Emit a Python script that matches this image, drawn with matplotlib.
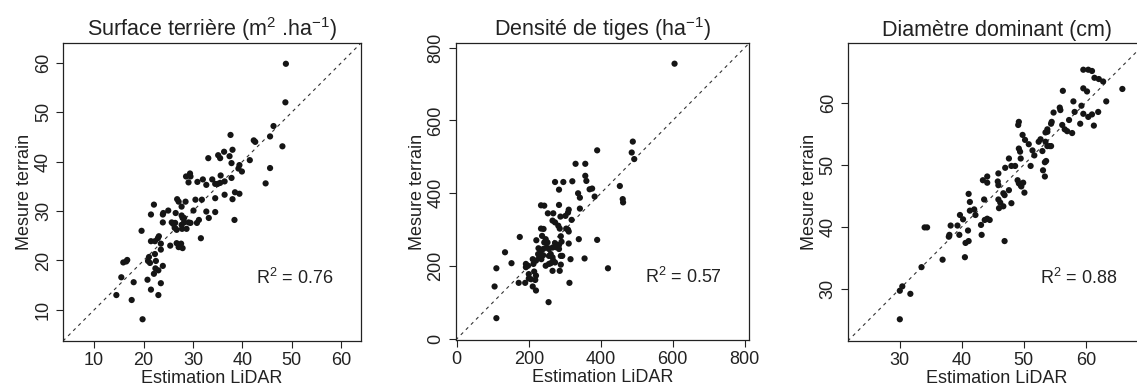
import matplotlib.pyplot as plt
import numpy as np

plt.rcParams['font.family'] = ['Liberation Sans', 'DejaVu Sans']
plt.rcParams['mathtext.fontset'] = 'custom'
plt.rcParams['mathtext.rm'] = 'Liberation Sans'
plt.rcParams['mathtext.it'] = 'Liberation Sans'

# surface terriere (m2/ha) : estimation LiDAR, mesure terrain
st_x = [48.8, 48.7, 46.3, 45.6, 48.1, 37.6, 42.3, 42.6, 38.0, 37.4, 36.3, 35.1, 35.5, 33.1,
        37.8, 41.5, 39.4, 39.2, 39.9, 45.6, 44.7, 32.0, 28.6, 29.4, 29.5, 29.1, 30.9, 32.7,
        33.9, 34.5, 35.0, 35.5, 35.6, 36.4, 37.8, 34.5, 36.4, 38.0, 38.5, 39.4, 38.4, 32.7,
        34.5, 33.2, 30.5, 31.8, 26.8, 27.1, 27.7, 28.5, 25.0, 24.0, 23.9, 22.1, 21.5, 26.5,
        27.7, 27.9, 28.2, 30.1, 31.2, 30.8, 23.9, 25.7, 26.0, 26.4, 26.3, 26.7, 27.7, 28.2,
        29.1, 29.5, 27.8, 28.7, 25.4, 26.7, 27.1, 27.9, 27.6, 31.6, 19.6, 21.5, 22.3, 22.9,
        23.1, 23.5, 23.5, 22.3, 21.1, 20.9, 21.3, 22.5, 23.9, 22.4, 23.0, 22.1, 23.5, 15.9,
        16.5, 16.7, 15.5, 14.5, 18.0, 17.6, 20.8, 21.5, 23.0, 19.8]
st_y = [59.8, 52.0, 47.2, 45.1, 43.1, 45.4, 44.3, 44.0, 42.4, 41.1, 42.0, 41.3, 40.7, 40.7,
        39.7, 40.3, 39.3, 38.6, 38.0, 38.7, 35.6, 36.4, 37.0, 37.6, 37.0, 35.8, 35.9, 35.3,
        36.4, 35.5, 35.5, 35.7, 37.2, 36.0, 36.7, 32.6, 33.3, 32.4, 33.8, 33.5, 28.2, 29.9,
        29.8, 28.6, 32.3, 32.3, 32.4, 31.9, 30.9, 31.9, 30.1, 29.6, 29.3, 31.3, 29.3, 29.6,
        29.1, 28.6, 28.6, 30.1, 28.2, 27.6, 27.7, 27.7, 27.4, 27.6, 26.6, 26.2, 27.2, 27.7,
        27.7, 27.6, 26.4, 26.4, 23.0, 23.5, 22.7, 22.5, 23.4, 24.5, 26.0, 23.9, 23.9, 24.5,
        24.9, 23.4, 22.2, 21.3, 20.7, 19.9, 19.5, 19.9, 18.9, 18.4, 18.0, 17.3, 15.4, 19.6,
        19.8, 20.1, 16.6, 13.0, 15.6, 12.0, 16.1, 14.1, 13.0, 8.1]

# densite de tiges (ha-1)
dt_x = [605, 489, 486, 493, 390, 330, 357, 357, 360, 296, 321, 273, 284, 369, 376, 337, 342,
        383, 453, 461, 462, 284, 234, 243, 253, 268, 288, 302, 311, 309, 319, 342, 266, 273,
        282, 286, 234, 241, 304, 309, 311, 175, 221, 237, 247, 243, 252, 273, 284, 291, 289,
        311, 339, 390, 227, 233, 240, 249, 256, 266, 275, 284, 226, 229, 240, 235, 256, 261,
        266, 268, 261, 273, 289, 293, 289, 316, 355, 247, 256, 266, 286, 220, 211, 213, 192,
        192, 198, 200, 206, 200, 215, 220, 218, 211, 220, 190, 172, 152, 134, 110, 105, 110,
        313, 255, 420]
dt_y = [756, 542, 512, 494, 518, 481, 481, 448, 434, 431, 433, 431, 410, 411, 413, 400, 388,
        391, 420, 384, 375, 368, 367, 366, 345, 345, 336, 338, 355, 347, 327, 358, 325, 320,
        311, 303, 303, 302, 303, 300, 295, 280, 271, 283, 274, 265, 265, 263, 258, 267, 282,
        262, 274, 272, 249, 242, 247, 251, 247, 251, 252, 247, 233, 224, 230, 219, 228, 233,
        224, 215, 208, 210, 228, 228, 204, 219, 221, 201, 206, 187, 187, 215, 219, 206, 206,
        197, 201, 178, 164, 166, 185, 174, 162, 144, 133, 154, 154, 208, 238, 194, 144, 57,
        154, 101, 194]

# diametre dominant (cm)
dd_x = [30.0, 30.0, 30.4, 31.7, 33.5, 36.9, 34.0, 34.4, 38.0, 37.9, 38.2, 39.3, 39.7, 39.6,
        40.2, 40.6, 41.1, 40.5, 41.0, 41.1, 41.3, 41.3, 42.0, 42.2, 43.1, 43.2, 43.4, 43.6,
        44.1, 44.1, 43.7, 44.1, 44.5, 45.9, 45.8, 45.9, 45.9, 46.2, 46.0, 46.7, 46.9, 46.7,
        46.9, 47.0, 47.6, 47.6, 48.0, 48.0, 48.6, 49.0, 49.2, 49.5, 49.6, 49.9, 50.1, 49.1,
        49.2, 49.2, 49.4, 49.5, 49.8, 50.2, 50.8, 51.1, 51.4, 51.7, 52.4, 52.7, 53.0, 53.1,
        53.4, 53.4, 53.6, 53.5, 53.8, 53.8, 53.5, 53.8, 54.2, 54.4, 54.4, 54.5, 54.8, 55.8,
        55.9, 56.2, 56.6, 57.0, 56.3, 57.3, 57.8, 58.0, 58.2, 59.1, 59.3, 59.6, 60.2, 59.6,
        59.6, 60.4, 61.0, 60.4, 61.0, 61.3, 61.4, 62.1, 62.8, 62.0, 63.3, 65.9]
dd_y = [25.1, 29.7, 30.4, 29.2, 33.5, 34.7, 39.9, 39.9, 38.7, 38.4, 40.2, 40.2, 41.9, 38.7,
        41.2, 37.4, 37.7, 35.1, 39.4, 45.3, 44.0, 42.6, 42.8, 41.9, 40.3, 38.7, 47.5, 44.4,
        47.1, 48.1, 41.1, 41.3, 41.1, 48.6, 47.3, 46.7, 44.4, 43.9, 43.0, 45.4, 45.1, 43.3,
        37.7, 49.5, 51.0, 45.9, 43.8, 49.8, 49.8, 47.5, 47.0, 46.7, 46.5, 47.1, 45.5, 56.4,
        56.9, 52.6, 52.1, 51.0, 54.8, 54.0, 53.3, 49.8, 52.3, 51.5, 53.7, 54.1, 52.2, 49.1,
        48.1, 50.4, 50.6, 55.2, 55.7, 55.3, 53.7, 53.0, 53.0, 53.0, 56.6, 56.9, 58.4, 59.2,
        58.8, 56.4, 55.7, 55.4, 61.9, 57.2, 55.1, 60.2, 58.5, 56.6, 59.5, 62.3, 61.8, 58.2,
        65.3, 65.3, 65.1, 57.7, 58.1, 56.3, 64.0, 63.8, 63.4, 58.5, 60.2, 62.2]

titles = [r'Surface terrière (m$^2$ .ha$^{-1}$)', r'Densité de tiges (ha$^{-1}$)',
          'Diamètre dominant (cm)']
r2 = ['0.76', '0.57', '0.88']

fig = plt.figure(figsize=(11.37, 3.88), dpi=100)
# positions in figure fraction (the third panel runs off the right edge)
pos = [[0.0554, 0.1211, 0.2621, 0.768],
       [0.4008, 0.1237, 0.2580, 0.7647],
       [0.7456, 0.1211, 0.2617, 0.768]]
lims = [(3.7, 64.0), (-3, 812), (21.6, 69.6)]
ticks = [np.arange(10, 61, 10), np.arange(0, 801, 200), np.arange(30, 61, 10)]
r2_pos = [(50.6, 16.4), (630, 169), (58.8, 31.7)]
data = [(st_x, st_y), (dt_x, dt_y), (dd_x, dd_y)]

for i in range(3):
    ax = fig.add_axes(pos[i])
    x, y = data[i]
    ax.scatter(x, y, s=20, c='#151515', edgecolors='none', zorder=3)
    lo, hi = lims[i]
    ax.plot([lo, hi], [lo, hi], ls=(0, (3, 3.5)), lw=0.8, c='#333333')
    ax.set_xlim(lo, hi)
    ax.set_ylim(lo, hi)
    ax.set_xticks(ticks[i])
    ax.set_yticks(ticks[i])
    ax.tick_params(direction='out', length=5, width=0.8, labelsize=13, pad=3,
                   colors='#222222')
    ax.tick_params(axis='y', pad=3)
    for lab in ax.get_yticklabels():
        lab.set_rotation(90)
        lab.set_va('center')
    for sp in ax.spines.values():
        sp.set_linewidth(0.9)
        sp.set_color('#222222')
    ax.set_xlabel('Estimation LiDAR', fontsize=13, labelpad=0.5, color='#222222')
    ax.set_ylabel('Mesure terrain', fontsize=13, labelpad=1, color='#222222')
    ax.set_title(titles[i], fontsize=15.5, pad=5, color='#222222')
    ax.text(r2_pos[i][0], r2_pos[i][1], '$\\mathregular{R^2}$ = ' + r2[i],
            fontsize=13, ha='center', va='center', color='#222222')

fig.savefig('out.png', dpi=100)
